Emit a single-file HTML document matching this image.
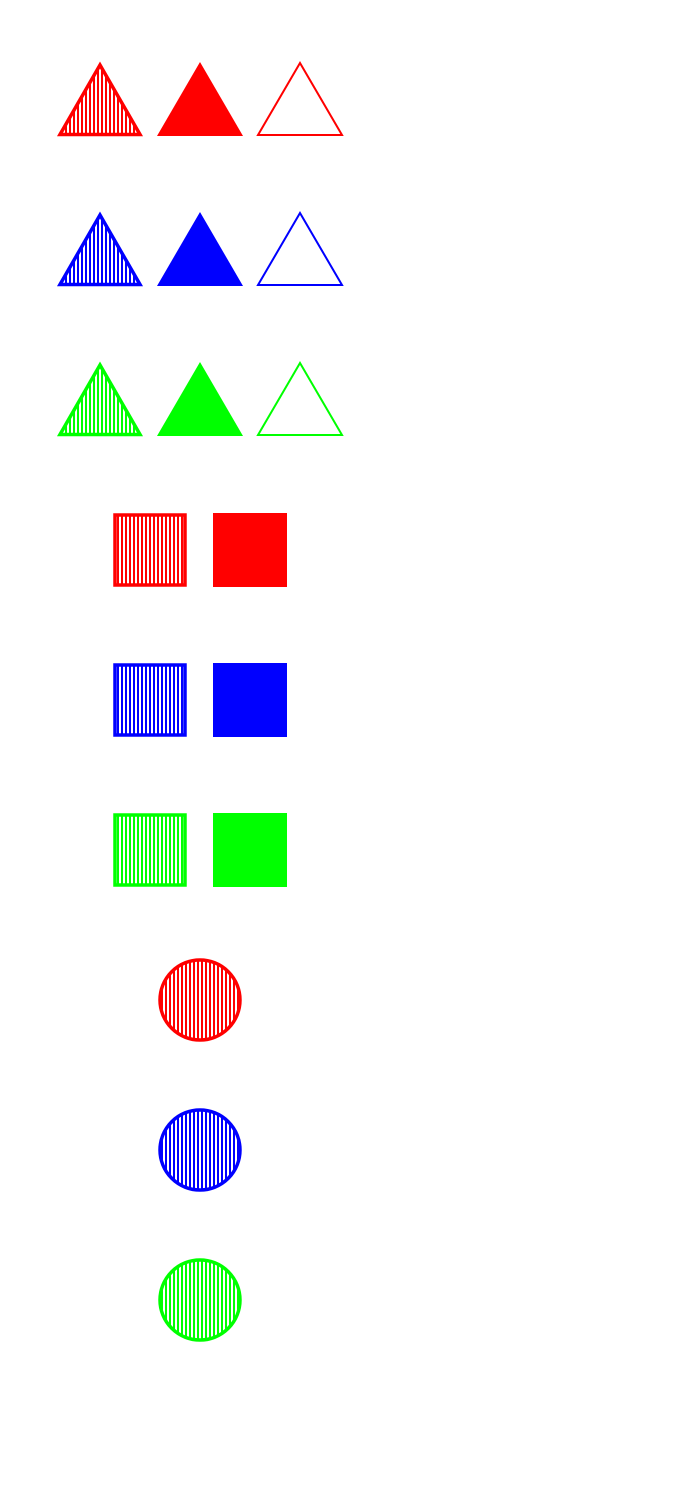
<!DOCTYPE html>
<html><head><meta charset="utf-8"><style>body{margin:0;background:#fff}svg{display:block}</style></head>
<body>
<svg id="chart" width="700" height="1500" viewBox="0 0 700 1500" xmlns="http://www.w3.org/2000/svg">
<defs>
<pattern id="h-red" width="4" height="10" patternUnits="userSpaceOnUse" x="1"><rect x="0" y="0" width="2" height="10" fill="#ff0000"/></pattern>
<pattern id="h-blue" width="4" height="10" patternUnits="userSpaceOnUse" x="1"><rect x="0" y="0" width="2" height="10" fill="#0000ff"/></pattern>
<pattern id="h-lime" width="4" height="10" patternUnits="userSpaceOnUse" x="1"><rect x="0" y="0" width="2" height="10" fill="#00ff00"/></pattern>
</defs>
<g id="marks"></g>
</svg>
<script>
const colors = ['red','blue','lime'];
const hexes = ['#ff0000','#0000ff','#00ff00'];
const rowCenters = [100,250,400,550,700,850,1000,1150,1300];
const ns='http://www.w3.org/2000/svg';
const g=document.getElementById('marks');
function mk(tag,attrs,name){const e=document.createElementNS(ns,tag);for(const k in attrs)e.setAttribute(k,attrs[k]);


g.appendChild(e);return e;}
function tri(x0,x1,top,bot){return `${x0},${bot} ${(x0+x1)/2},${top} ${x1},${bot}`;}
colors.forEach((c,i)=>{
  const off=rowCenters[i]-100;
  const a=mk('polygon',{points:tri(60,140,65,134.5),fill:`url(#h-${c})`,stroke:hexes[i],'stroke-width':3.5},`${c}-hatched-triangle`);
  a.setAttribute('transform',`translate(0,${off})`);
  const b=mk('polygon',{points:tri(157,243,62,136),fill:hexes[i]},`${c}-filled-triangle`);
  b.setAttribute('transform',`translate(0,${off})`);
  const o=mk('polygon',{points:tri(258,342,63,135),fill:'none',stroke:hexes[i],'stroke-width':2},`${c}-outline-triangle`);
  o.setAttribute('transform',`translate(0,${off})`);
});
colors.forEach((c,i)=>{
  const cy=rowCenters[3+i];
  mk('rect',{x:115,y:cy-35,width:70,height:70,fill:`url(#h-${c})`,stroke:hexes[i],'stroke-width':3.5},`${c}-hatched-square`);
  mk('rect',{x:213,y:cy-37,width:74,height:74,fill:hexes[i]},`${c}-filled-square`);
});
colors.forEach((c,i)=>{
  const cy=rowCenters[6+i];
  mk('circle',{cx:200,cy:cy,r:40,fill:`url(#h-${c})`,stroke:hexes[i],'stroke-width':3.5},`${c}-hatched-circle`);
});
</script>
</body></html>
